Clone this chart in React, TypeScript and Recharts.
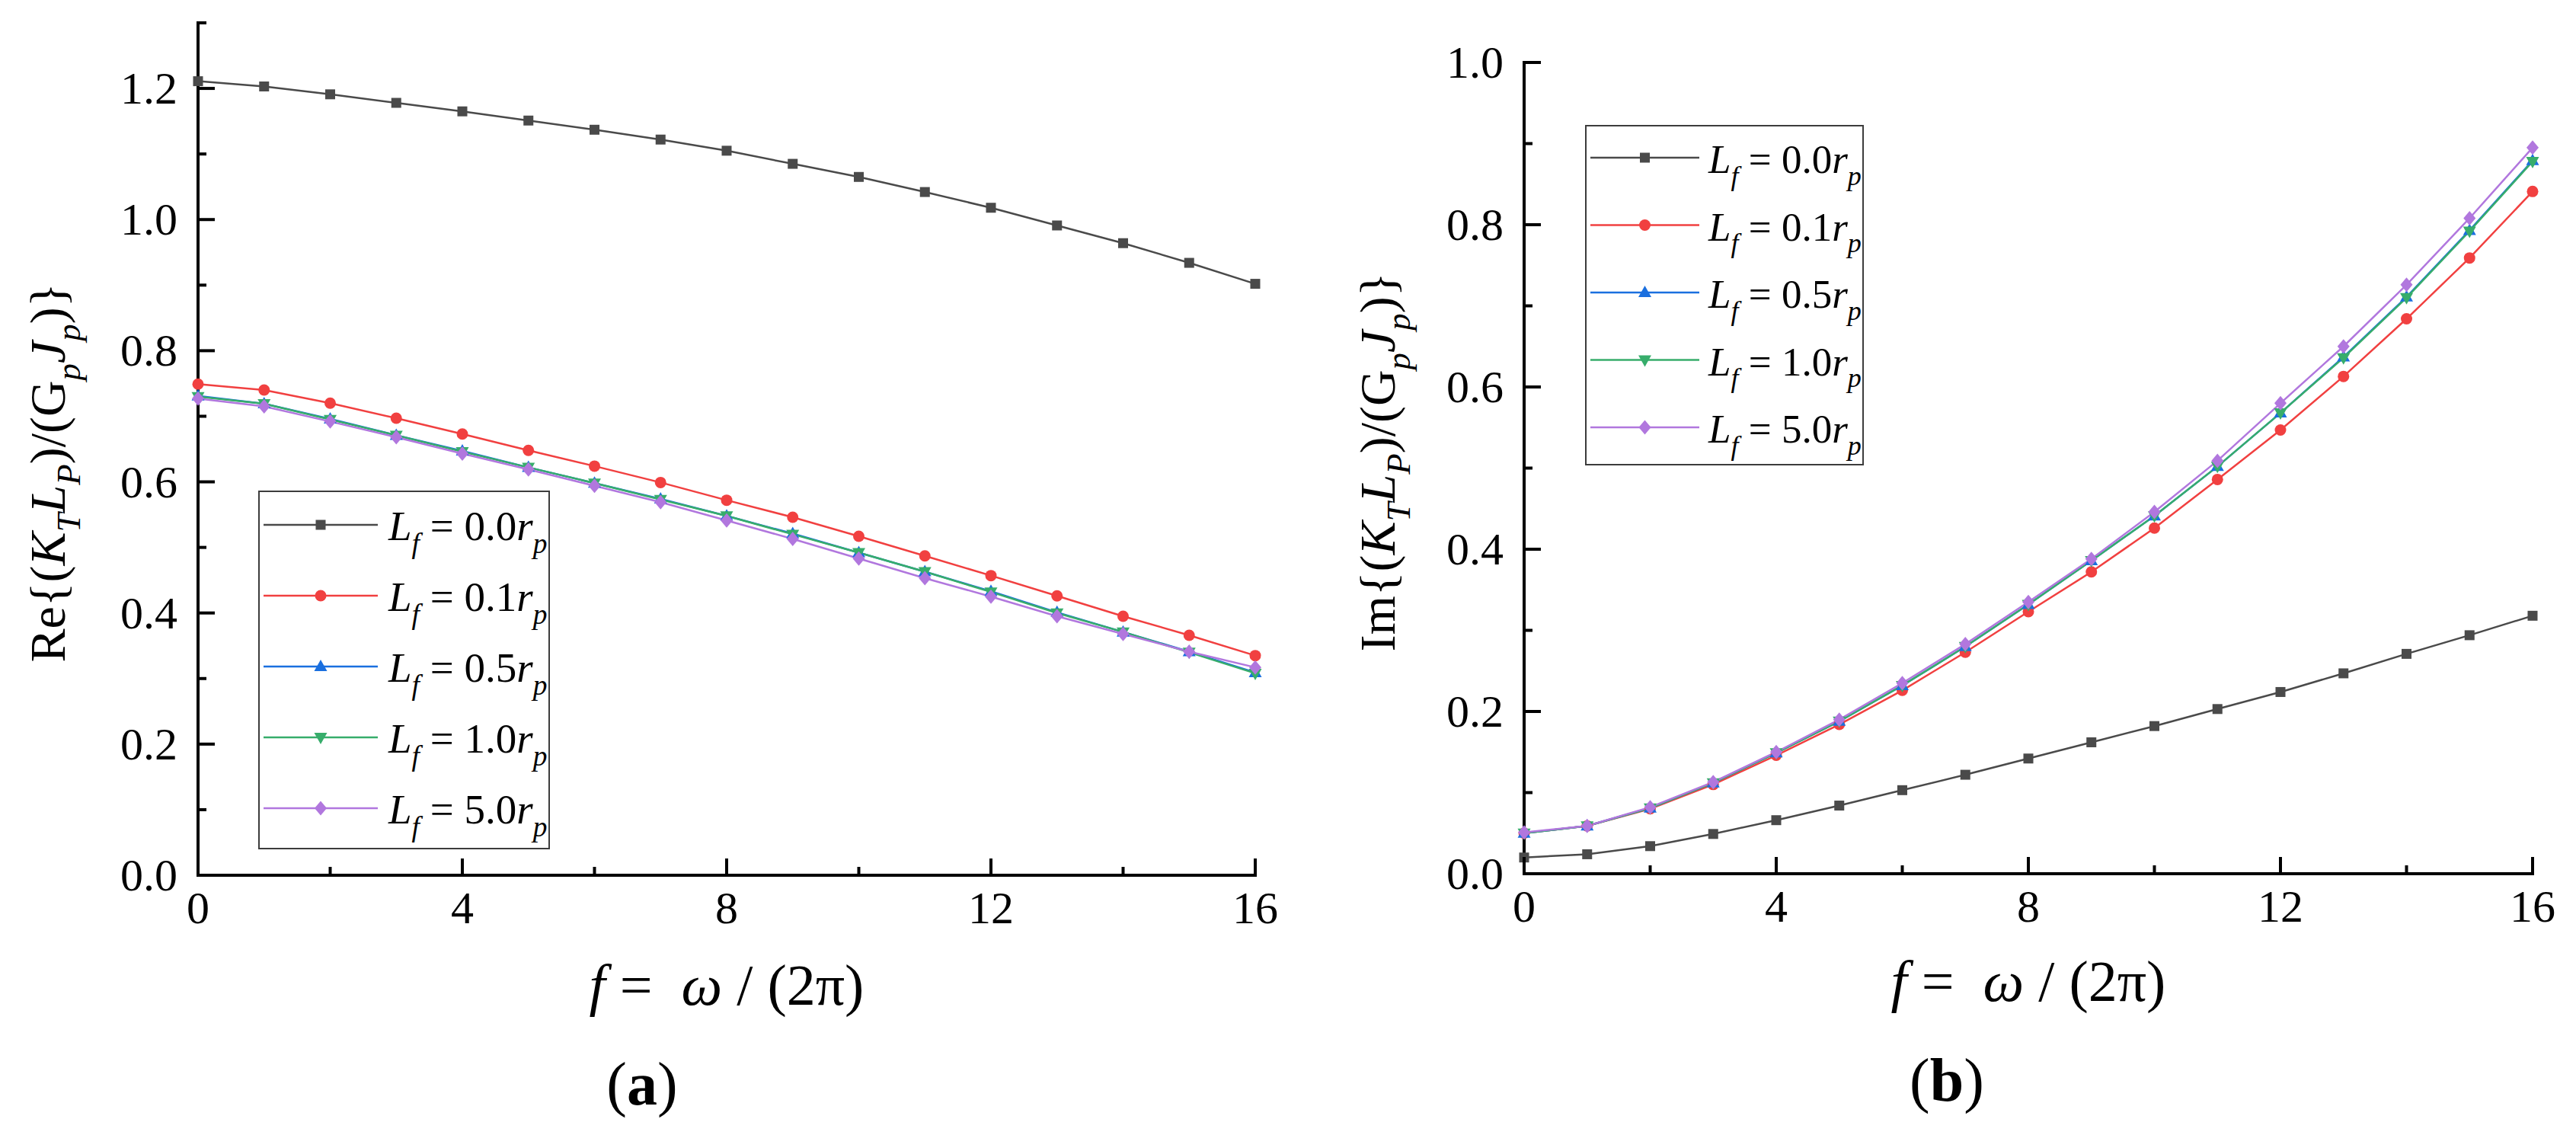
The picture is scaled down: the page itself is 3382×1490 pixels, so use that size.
import React from 'react';
import { LineChart, Line, XAxis, YAxis, Legend, Label } from 'recharts';

const FONT = '"Liberation Serif", "DejaVu Serif", serif';

// f = ω / (2π)
const FREQ = [0, 1, 2, 3, 4, 5, 6, 7, 8, 9, 10, 11, 12, 13, 14, 15, 16];

// (a) Re{(K_T L_P)/(G_p J_p)}
const RE_L00 = [1.211, 1.203, 1.191, 1.178, 1.165, 1.151, 1.137, 1.122, 1.105, 1.085, 1.065, 1.042, 1.018, 0.991, 0.964, 0.934, 0.902];
const RE_L01 = [0.749, 0.740, 0.720, 0.697, 0.673, 0.648, 0.624, 0.599, 0.572, 0.546, 0.517, 0.487, 0.457, 0.426, 0.395, 0.366, 0.335];
const RE_L05 = [0.731, 0.719, 0.696, 0.671, 0.647, 0.622, 0.598, 0.574, 0.548, 0.521, 0.492, 0.463, 0.433, 0.401, 0.371, 0.341, 0.309];
const RE_L10 = [0.730, 0.719, 0.695, 0.671, 0.646, 0.622, 0.598, 0.573, 0.548, 0.520, 0.492, 0.463, 0.432, 0.400, 0.371, 0.340, 0.308];
const RE_L50 = [0.727, 0.715, 0.692, 0.668, 0.643, 0.619, 0.594, 0.569, 0.541, 0.513, 0.483, 0.453, 0.425, 0.395, 0.368, 0.341, 0.317];

// (b) Im{(K_T L_P)/(G_p J_p)}
const IM_L00 = [0.020, 0.024, 0.034, 0.049, 0.066, 0.084, 0.103, 0.122, 0.142, 0.162, 0.182, 0.203, 0.224, 0.247, 0.271, 0.294, 0.318];
const IM_L01 = [0.050, 0.059, 0.080, 0.110, 0.146, 0.184, 0.226, 0.273, 0.323, 0.372, 0.426, 0.486, 0.547, 0.613, 0.684, 0.759, 0.841];
const IM_L05 = [0.050, 0.059, 0.081, 0.112, 0.149, 0.188, 0.232, 0.280, 0.332, 0.386, 0.441, 0.502, 0.568, 0.637, 0.711, 0.793, 0.879];
const IM_L10 = [0.050, 0.059, 0.081, 0.112, 0.149, 0.188, 0.232, 0.280, 0.332, 0.386, 0.441, 0.502, 0.568, 0.636, 0.710, 0.792, 0.878];
const IM_L50 = [0.051, 0.059, 0.082, 0.113, 0.150, 0.190, 0.235, 0.283, 0.335, 0.388, 0.446, 0.509, 0.580, 0.650, 0.726, 0.808, 0.895];

const SERIES_KEYS = ['l00', 'l01', 'l05', 'l10', 'l50'];
const SERIES_LABELS = ['0.0', '0.1', '0.5', '1.0', '5.0'];
const SERIES_COLORS = ['#4a4a4a', '#F14040', '#1A6FDF', '#37AD6B', '#B177DE'];
const SERIES_SHAPES = ['square', 'circle', 'up', 'down', 'diamond'];

const X_TICKS = [0, 2, 4, 6, 8, 10, 12, 14, 16];
const Y_TICKS_RE = [0, 0.1, 0.2, 0.3, 0.4, 0.5, 0.6, 0.7, 0.8, 0.9, 1.0, 1.1, 1.2, 1.3];
const Y_TICKS_IM = [0, 0.1, 0.2, 0.3, 0.4, 0.5, 0.6, 0.7, 0.8, 0.9, 1.0];

type Seg = { t: string; it?: boolean; sub?: boolean };

const RE_TITLE: Seg[] = [
  { t: 'Re{(' }, { t: 'K', it: true }, { t: 'T', it: true, sub: true }, { t: 'L', it: true },
  { t: 'P', it: true, sub: true }, { t: ')/(G' }, { t: 'p', it: true, sub: true }, { t: 'J', it: true },
  { t: 'p', it: true, sub: true }, { t: ')}' },
];
const IM_TITLE: Seg[] = [{ t: 'Im{(' }, ...RE_TITLE.slice(1)];
const X_TITLE: Seg[] = [{ t: 'f', it: true }, { t: ' =  ' }, { t: 'ω', it: true }, { t: ' / (2π)' }];

function buildRows(cols: number[][]) {
  return FREQ.map((f, i) => {
    const row: Record<string, number> = { f };
    SERIES_KEYS.forEach((k, j) => {
      row[k] = cols[j][i];
    });
    return row;
  });
}

function richTspans(segs: Seg[], fs: number) {
  let shift = 0;
  return segs.map((s, i) => {
    const target = s.sub ? fs * 0.3 : 0;
    const dy = target - shift;
    shift = target;
    return (
      <tspan key={i} dy={dy} fontStyle={s.it ? 'italic' : 'normal'} fontSize={s.sub ? fs * 0.68 : fs}>
        {s.t}
      </tspan>
    );
  });
}

function Marker({ cx, cy, shape, color }: any) {
  if (cx == null || cy == null) return null;
  switch (shape) {
    case 'square':
      return <rect x={cx - 6.5} y={cy - 6.5} width={13} height={13} fill={color} />;
    case 'circle':
      return <circle cx={cx} cy={cy} r={7.5} fill={color} />;
    case 'up':
      return <polygon points={`${cx},${cy - 9} ${cx + 8.5},${cy + 6} ${cx - 8.5},${cy + 6}`} fill={color} />;
    case 'down':
      return <polygon points={`${cx},${cy + 9} ${cx + 8.5},${cy - 6} ${cx - 8.5},${cy - 6}`} fill={color} />;
    default:
      return <polygon points={`${cx},${cy - 9.5} ${cx + 8},${cy} ${cx},${cy + 9.5} ${cx - 8},${cy}`} fill={color} />;
  }
}

const TICK_FS = 60;

const XTick = (props: any) => {
  const { x, y, payload } = props;
  const v = payload.value;
  const major = v % 4 === 0;
  return (
    <g>
      <line x1={x} x2={x} y1={y} y2={y - (major ? 22 : 11)} stroke="#000" strokeWidth={4} />
      {major && (
        <text x={x} y={y + 63} textAnchor="middle" fontSize={TICK_FS} fill="#000" style={{ fontFamily: FONT }}>
          {v}
        </text>
      )}
    </g>
  );
};

const YTick = (props: any) => {
  const { x, y, payload } = props;
  const v = payload.value;
  const major = Math.round(v * 10) % 2 === 0;
  return (
    <g>
      <line x1={x} x2={x + (major ? 22 : 11)} y1={y} y2={y} stroke="#000" strokeWidth={4} />
      {major && (
        <text x={x - 27} y={y + 20} textAnchor="end" fontSize={TICK_FS} fill="#000" style={{ fontFamily: FONT }}>
          {v.toFixed(1)}
        </text>
      )}
    </g>
  );
};

function LegendBox({ cfg }: any) {
  const mid = (cfg.lineStart + cfg.lineEnd) / 2;
  return (
    <svg width={cfg.w} height={cfg.h} style={{ display: 'block' }}>
      <rect x={1} y={1} width={cfg.w - 2} height={cfg.h - 2} fill="#fff" stroke="#3c3c3c" strokeWidth={2} />
      {SERIES_LABELS.map((lab, i) => {
        const cy = cfg.first + i * cfg.step;
        const segs: Seg[] = [
          { t: 'L', it: true }, { t: 'f', it: true, sub: true }, { t: ' = ' + lab },
          { t: 'r', it: true }, { t: 'p', it: true, sub: true },
        ];
        return (
          <g key={lab}>
            <line x1={cfg.lineStart} x2={cfg.lineEnd} y1={cy} y2={cy} stroke={SERIES_COLORS[i]} strokeWidth={2.5} />
            <Marker cx={mid} cy={cy} shape={SERIES_SHAPES[i]} color={SERIES_COLORS[i]} />
            <text x={cfg.textStart} y={cy + 20} fill="#000" style={{ fontFamily: FONT, whiteSpace: 'pre' }}>
              {richTspans(segs, cfg.fs)}
            </text>
          </g>
        );
      })}
    </svg>
  );
}

const PANELS = [
  {
    tag: 'a',
    left: 0,
    width: 1700,
    margin: { top: 30, right: 52, left: 60, bottom: 141 },
    rows: buildRows([RE_L00, RE_L01, RE_L05, RE_L10, RE_L50]),
    yDomain: [0, 1.3],
    yTicks: Y_TICKS_RE,
    yTitle: RE_TITLE,
    yTitleDx: -175,
    yTitleDy: 31,
    xTitleDy: 170,
    tagX: 843,
    tagY: 1450,
    legend: { left: 339, top: 644, w: 383, h: 471, first: 45, step: 93, lineStart: 7, lineEnd: 157, textStart: 171, fs: 55 },
  },
  {
    tag: 'b',
    left: 1700,
    width: 1682,
    margin: { top: 82, right: 57, left: 101, bottom: 143 },
    rows: buildRows([IM_L00, IM_L01, IM_L05, IM_L10, IM_L50]),
    yDomain: [0, 1.0],
    yTicks: Y_TICKS_IM,
    yTitle: IM_TITLE,
    yTitleDx: -170,
    yTitleDy: -8,
    xTitleDy: 167,
    tagX: 856,
    tagY: 1445,
    legend: { left: 381, top: 164, w: 366, h: 447, first: 43, step: 88.5, lineStart: 7, lineEnd: 150, textStart: 162, fs: 53 },
  },
];

function Panel({ p }: any) {
  const lg = p.legend;
  return (
    <div style={{ position: 'absolute', left: p.left, top: 0, width: p.width, height: 1490 }}>
      <LineChart width={p.width} height={1490} data={p.rows} margin={p.margin}>
        <XAxis
          dataKey="f"
          type="number"
          domain={[0, 16]}
          ticks={X_TICKS}
          interval={0}
          height={200}
          tickSize={0}
          tickMargin={0}
          tickLine={false}
          axisLine={{ stroke: '#000', strokeWidth: 4, strokeLinecap: 'square' }}
          tick={XTick}
        >
          <Label
            content={(lp: any) => {
              const vb = lp.viewBox || { x: 0, y: 0, width: 0 };
              return (
                <text
                  x={vb.x + vb.width / 2}
                  y={vb.y + p.xTitleDy}
                  textAnchor="middle"
                  fill="#000"
                  style={{ fontFamily: FONT, whiteSpace: 'pre' }}
                >
                  {richTspans(X_TITLE, 76)}
                </text>
              );
            }}
          />
        </XAxis>
        <YAxis
          type="number"
          domain={p.yDomain}
          ticks={p.yTicks}
          interval={0}
          width={200}
          tickSize={0}
          tickMargin={0}
          tickLine={false}
          axisLine={{ stroke: '#000', strokeWidth: 4, strokeLinecap: 'square' }}
          tick={YTick}
        >
          <Label
            content={(lp: any) => {
              const vb = lp.viewBox || { x: 0, y: 0, width: 0, height: 0 };
              const bx = vb.x + vb.width + p.yTitleDx;
              const by = vb.y + vb.height / 2 + p.yTitleDy;
              return (
                <text
                  transform={`translate(${bx},${by}) rotate(-90)`}
                  x={0}
                  y={0}
                  textAnchor="middle"
                  fill="#000"
                  style={{ fontFamily: FONT }}
                >
                  {richTspans(p.yTitle, 66)}
                </text>
              );
            }}
          />
        </YAxis>
        <Legend
          layout="vertical"
          align="center"
          verticalAlign="middle"
          wrapperStyle={{ left: lg.left, top: lg.top, width: lg.w, height: lg.h }}
          content={() => <LegendBox cfg={lg} />}
        />
        {SERIES_KEYS.map((k, i) => (
          <Line
            key={k}
            type="linear"
            dataKey={k}
            stroke={SERIES_COLORS[i]}
            strokeWidth={2.5}
            isAnimationActive={false}
            dot={(dp: any) => (
              <Marker key={`${k}-${dp.index}`} cx={dp.cx} cy={dp.cy} shape={SERIES_SHAPES[i]} color={SERIES_COLORS[i]} />
            )}
            activeDot={false}
          />
        ))}
      </LineChart>
      <svg width={p.width} height={1490} style={{ position: 'absolute', left: 0, top: 0, pointerEvents: 'none' }}>
        <text x={p.tagX} y={p.tagY} textAnchor="middle" fontSize={80} fill="#000" style={{ fontFamily: FONT }}>
          (<tspan fontWeight="bold">{p.tag}</tspan>)
        </text>
      </svg>
    </div>
  );
}

export default function App() {
  return (
    <div style={{ position: 'absolute', left: 0, top: 0, width: 3382, height: 1490, background: '#fff', overflow: 'hidden' }}>
      {PANELS.map((p) => (
        <Panel key={p.tag} p={p} />
      ))}
    </div>
  );
}
